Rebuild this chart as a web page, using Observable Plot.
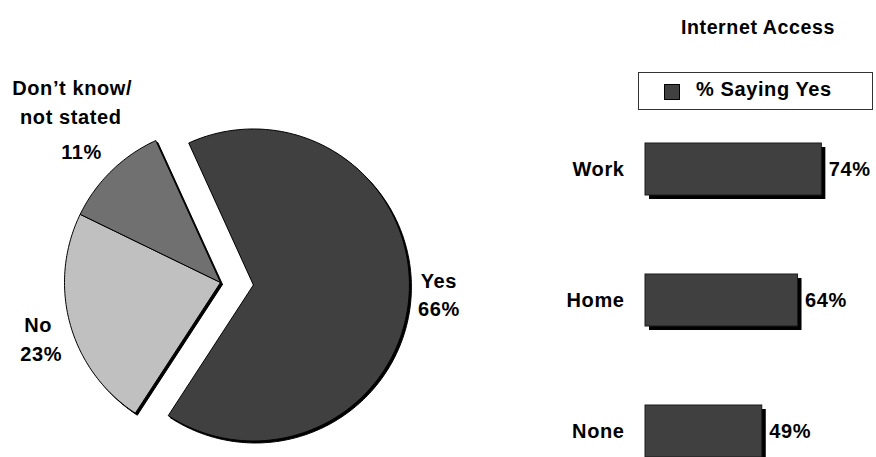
<!DOCTYPE html>
<html>
<head>
<meta charset="utf-8">
<script src="https://cdn.jsdelivr.net/npm/d3@7"></script>
<script src="https://cdn.jsdelivr.net/npm/@observablehq/plot@0.6"></script>
<style>
  html, body { margin: 0; padding: 0; background: #fff; }
  #wrap { position: relative; width: 876px; height: 457px; overflow: hidden; background: #fff;
          font-family: "Liberation Sans", Arial, sans-serif; font-weight: bold; font-size: 20px; letter-spacing: 0.6px; }
  #left { position: absolute; left: 0; top: 0; }
  #right { position: absolute; left: 480px; top: 0; }
  #title { position: absolute; left: 640px; top: 17px; width: 236px; text-align: center; line-height: 20px; font-size: 19.6px; }
  #legend { position: absolute; left: 638px; top: 72px; width: 235px; height: 38px; box-sizing: border-box;
            border: 1px solid #333; background: #fff; }
  #legend .sw { position: absolute; left: 25px; top: 11px; width: 16px; height: 16px; box-sizing: border-box;
                background: #404040; border: 1px solid #000; }
  #legend .tx { position: absolute; left: 57px; top: 6px; line-height: 20px; white-space: nowrap; }
</style>
</head>
<body>
<div id="wrap">
  <div id="left"></div>
  <div id="right"></div>
  <div id="title"></div>
  <div id="legend"><div class="sw"></div><div class="tx"></div></div>
</div>
<script>
// ---- data ----
const pieCategories = ["Yes", "No", "Don’t know/\nnot stated"];
const pieValues = [66, 23, 11];
const barCategories = ["Work", "Home", "None"];
const barValues = [74, 64, 49];
const chartTitle = "Internet Access";
const legendLabel = "% Saying Yes";

// ---- styles / layout ----
const pieColors = ["#404040", "#c0c0c0", "#707070"];
const barColor = "#404040";
const pieCenter = [220, 282];
const pieRadius = 156;
const pieStart = -24.5 * Math.PI / 180;
const pieExplode = [33, 0, 0];
const labelLayout = [
  {r: 186, offsets: [[0, -17], [0, 10.2]]},
  {r: 187.6, offsets: [[-1.5, -7], [1.5, 21.5]]},
  {r: 206.2, offsets: [[-4.3, -46.8], [-5.7, -17.5], [5, 17.5]]}
];
const textStyle = {fontFamily: "'Liberation Sans', Arial, sans-serif", fontSize: "20px", fontWeight: "bold", letterSpacing: "0.6px", background: "transparent", overflow: "visible"};

document.getElementById("title").textContent = chartTitle;
document.querySelector("#legend .tx").textContent = legendLabel;

// ---- pie geometry from values ----
const arcs = d3.pie().sort(null).startAngle(pieStart).endAngle(pieStart + 2 * Math.PI)(pieValues);
const slices = arcs.map((a, i) => {
  const mid = (a.startAngle + a.endAngle) / 2;
  const cx = pieCenter[0] + pieExplode[i] * Math.sin(mid);
  const cy = pieCenter[1] - pieExplode[i] * Math.cos(mid);
  const pts = [{x: cx, y: cy}];
  const n = Math.max(2, Math.ceil((a.endAngle - a.startAngle) / (Math.PI / 180)));
  for (let k = 0; k <= n; ++k) {
    const t = a.startAngle + (a.endAngle - a.startAngle) * k / n;
    pts.push({x: cx + pieRadius * Math.sin(t), y: cy - pieRadius * Math.cos(t)});
  }
  pts.push({x: cx, y: cy});
  return {i, mid, cx, cy, pts};
});

const labelRows = [];
slices.forEach((s, i) => {
  const L = labelLayout[i];
  const px = s.cx + L.r * Math.sin(s.mid);
  const py = s.cy - L.r * Math.cos(s.mid);
  const lines = [...pieCategories[i].split("\n"), pieValues[i] + "%"];
  lines.forEach((t, j) => labelRows.push({x: px + L.offsets[j][0], y: py + L.offsets[j][1], text: t}));
});

const pieMarks = [];
slices.forEach((s, i) => pieMarks.push(Plot.line(s.pts, {x: "x", y: "y", fill: "#000", stroke: "#000", strokeWidth: 1, dx: 2, dy: 2})));
slices.forEach((s, i) => pieMarks.push(Plot.line(s.pts, {x: "x", y: "y", fill: pieColors[i], stroke: "#000", strokeWidth: 1})));
pieMarks.push(Plot.text(labelRows, {x: "x", y: "y", text: "text", fill: "#000"}));

const left = Plot.plot({
  width: 480, height: 457,
  margin: 0,
  x: {type: "linear", domain: [0, 480], range: [0, 480], axis: null},
  y: {type: "linear", domain: [0, 457], range: [0, 457], axis: null},
  style: textStyle,
  marks: pieMarks
});
document.getElementById("left").appendChild(left);

// ---- bars ----
const bars = barCategories.map((c, i) => ({cat: c, value: barValues[i]}));
const right = Plot.plot({
  width: 396, height: 457,
  marginLeft: 165, marginRight: 0, marginTop: 0, marginBottom: 0,
  x: {domain: [0, 100], range: [165, 403.3], axis: null},
  y: {type: "band", domain: barCategories, range: [63.3, 537.4], paddingInner: 0.605, paddingOuter: 0.605, align: 0.5},
  style: textStyle,
  marks: [
    Plot.barX(bars, {x: "value", y: "cat", fill: "#000", dx: 4, dy: 4}),
    Plot.barX(bars, {x: "value", y: "cat", fill: barColor, stroke: "#1a1a1a", strokeWidth: 1}),
    Plot.text(bars, {x: "value", y: "cat", text: d => d.value + "%", textAnchor: "start", dx: 7, fill: "#000"}),
    Plot.axisY({tickSize: 0, tickPadding: 21, label: null, fill: "#000"})
  ]
});
document.getElementById("right").appendChild(right);
</script>
</body>
</html>
